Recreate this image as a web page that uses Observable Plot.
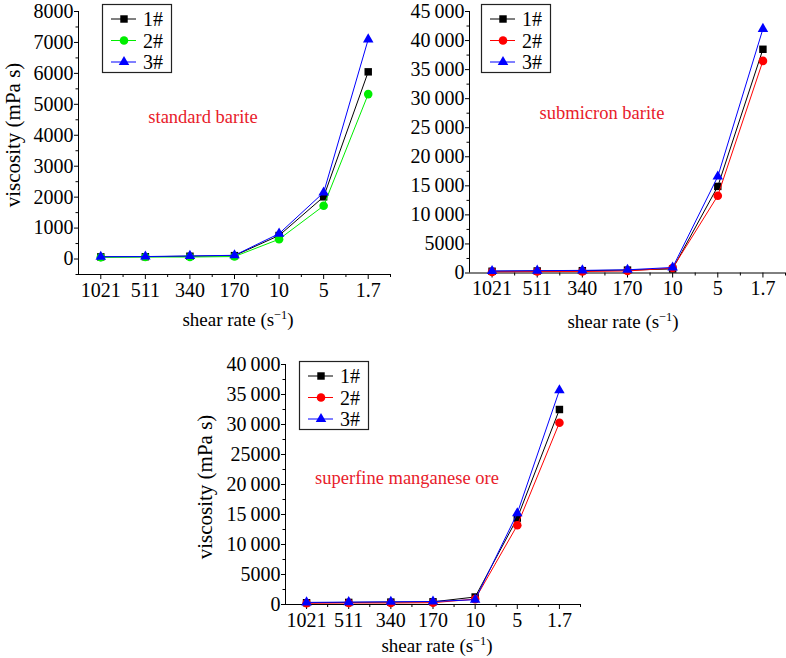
<!DOCTYPE html>
<html><head><meta charset="utf-8">
<script src="https://cdn.jsdelivr.net/npm/d3@7"></script>
<script src="https://cdn.jsdelivr.net/npm/@observablehq/plot@0.6"></script>
<style>
body{margin:0;background:#fff;}
#wrap{position:relative;width:786px;height:658px;overflow:hidden;font-family:"Liberation Serif","Times New Roman",serif;color:#000;}
.panel{position:absolute;}
.panel svg{overflow:visible;}
.panel svg text{font-size:20px !important;font-family:"Liberation Serif",serif !important;}
.lbl{position:absolute;font-size:19px;white-space:nowrap;transform:translate(-50%,-50%);line-height:1;}
.ylbl{transform:translate(-50%,-50%) rotate(-90deg);font-size:21px;}
.note{color:#e8202a;font-size:18.5px;}
sup{font-size:0.65em;vertical-align:0.55em;line-height:0;}
.legend{position:absolute;}
</style></head><body><div id="wrap"></div>
<script>
// ---- data ----
const shearRates = ["1021", "511", "340", "170", "10", "5", "1.7"];
const seriesNames = ["1#", "2#", "3#"];

// standard barite (mPa s)
const standard1 = [70, 75, 90, 110, 760, 2010, 6050];
const standard2 = [55, 65, 65, 80, 640, 1720, 5330];
const standard3 = [75, 80, 100, 120, 820, 2150, 7100];

// submicron barite
const submicron1 = [300, 350, 400, 500, 700, 14900, 38500];
const submicron2 = [200, 250, 250, 350, 850, 13300, 36500];
const submicron3 = [350, 400, 450, 550, 950, 16600, 42000];

// superfine manganese ore
const manganese1 = [300, 350, 400, 450, 1250, 14400, 32500];
const manganese2 = [200, 250, 250, 300, 900, 13200, 30300];
const manganese3 = [350, 400, 450, 500, 800, 15200, 35700];

const yTicksStandard = ["0", "1000", "2000", "3000", "4000", "5000", "6000", "7000", "8000"];
const yTicksSubmicron = ["0", "5000", "10\u2009000", "15\u2009000", "20\u2009000", "25\u2009000", "30\u2009000", "35\u2009000", "40\u2009000", "45\u2009000"];
const yTicksManganese = ["0", "5000", "10\u2009000", "15\u2009000", "20\u2009000", "25000", "30\u2009000", "35\u2009000", "40\u2009000"];

const titles = ["standard barite", "submicron barite", "superfine manganese ore"];
const colorsStandard = ["#000000", "#00ee00", "#0000ff"];
const colorsOther = ["#000000", "#ff0000", "#0000ff"];
const symbols = ["square", "circle", "triangle"];
const symbolR = [4.2, 4.3, 3.9];

// ---- drawing ----
const wrap = document.getElementById("wrap");

function makePanel({series, colors, yMin, yMax, yStep, yLabels, left, top, width, height, mL, mR, mT, mB}) {
  const marks = [
    Plot.ruleY([yMin], {stroke: "#000", strokeWidth: 1}),
    Plot.ruleX([-0.5], {stroke: "#000", strokeWidth: 1}),
    Plot.axisX({ticks: d3.range(shearRates.length), tickFormat: i => shearRates[i], tickSize: 5, tickPadding: 3, label: null}),
    Plot.axisX({ticks: d3.range(shearRates.length).map(i => i + 0.5), tickFormat: () => "", tickSize: 3, label: null}),
    Plot.axisY({ticks: yLabels.map((_, i) => i * yStep), tickFormat: (d) => yLabels[Math.round(d / yStep)], tickSize: 4, tickPadding: 1, label: null}),
    Plot.axisY({ticks: d3.range(yMin < 0 ? -1 : 0, yLabels.length - 1).map(i => i * yStep + yStep / 2), tickFormat: () => "", tickSize: 2.5, label: null})
  ];
  series.forEach((vals, k) => {
    marks.push(Plot.line(vals, {x: (d, i) => i, y: d => d, stroke: colors[k], strokeWidth: 1}));
    marks.push(Plot.dot(vals, {x: (d, i) => i, y: d => d, symbol: symbols[k], fill: colors[k], stroke: "none", r: symbolR[k]}));
  });
  const svg = Plot.plot({
    width, height,
    marginLeft: mL, marginRight: mR, marginTop: mT, marginBottom: mB,
    x: {domain: [-0.5, shearRates.length - 0.5]},
    y: {domain: [yMin, yMax]},
    style: {fontFamily: "'Liberation Serif', serif", fontSize: "20px", background: "transparent", color: "#000", overflow: "visible"},
    marks
  });
  const div = document.createElement("div");
  div.className = "panel";
  div.style.left = left + "px";
  div.style.top = top + "px";
  div.appendChild(svg);
  wrap.appendChild(div);
}

function addLabel(html, x, y, cls) {
  const d = document.createElement("div");
  d.className = "lbl " + (cls || "");
  d.style.left = x + "px";
  d.style.top = y + "px";
  d.innerHTML = html;
  wrap.appendChild(d);
}

function addLegend(colors, x, y) {
  const w = 70, h = 69;
  const svg = d3.create("svg").attr("width", w + 2).attr("height", h + 2).attr("class", "legend")
    .style("left", (x - 1) + "px").style("top", (y - 1) + "px");
  svg.append("rect").attr("x", 1.5).attr("y", 1.5).attr("width", w - 1).attr("height", h - 1)
    .attr("fill", "#fff").attr("stroke", "#222").attr("stroke-width", 1.2);
  const rows = [16, 37.5, 59];
  const sym = [d3.symbolSquare, d3.symbolCircle, d3.symbolTriangle];
  seriesNames.forEach((name, k) => {
    const cy = rows[k];
    svg.append("line").attr("x1", 10).attr("x2", 35).attr("y1", cy).attr("y2", cy).attr("stroke", colors[k]).attr("stroke-width", 1);
    svg.append("path").attr("d", d3.symbol(sym[k], Math.PI * symbolR[k] * symbolR[k])()).attr("transform", `translate(23,${cy})`).attr("fill", colors[k]);
    svg.append("text").attr("x", 42).attr("y", cy).attr("dy", "0.35em").attr("font-size", 20)
      .attr("font-family", "'Liberation Serif', serif").text(name);
  });
  wrap.appendChild(svg.node());
}

// panel 1: standard barite
makePanel({series: [standard1, standard2, standard3], colors: colorsStandard,
  yMin: -500, yMax: 8000, yStep: 1000, yLabels: yTicksStandard,
  left: 0, top: 0, width: 390, height: 330, mL: 78, mR: 0, mT: 11, mB: 56});
addLegend(colorsStandard, 102, 4);
addLabel(titles[0], 203, 117, "note");
addLabel("viscosity (mPa s)", 13, 135, "ylbl");
addLabel("shear rate (s<sup>\u22121</sup>)", 238, 319);

// panel 2: submicron barite
makePanel({series: [submicron1, submicron2, submicron3], colors: colorsOther,
  yMin: 0, yMax: 45000, yStep: 5000, yLabels: yTicksSubmicron,
  left: 390, top: 0, width: 396, height: 330, mL: 79, mR: 1, mT: 11, mB: 57.5});
addLegend(colorsOther, 481, 4);
addLabel(titles[1], 602, 113, "note");
addLabel("shear rate (s<sup>\u22121</sup>)", 623, 321);

// panel 3: superfine manganese ore
makePanel({series: [manganese1, manganese2, manganese3], colors: colorsOther,
  yMin: 0, yMax: 40000, yStep: 5000, yLabels: yTicksManganese,
  left: 190, top: 330, width: 400, height: 328, mL: 95, mR: 10, mT: 34, mB: 54});
addLegend(colorsOther, 299, 361);
addLabel(titles[2], 407, 478, "note");
addLabel("viscosity (mPa s)", 205, 487, "ylbl");
addLabel("shear rate (s<sup>\u22121</sup>)", 437, 645);
</script></body></html>
